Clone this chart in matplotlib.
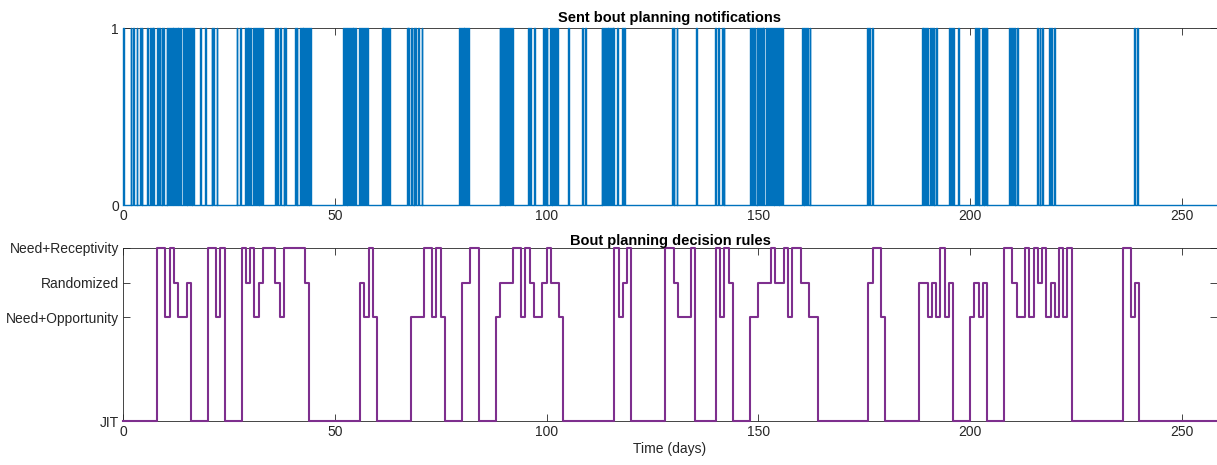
import numpy as np
import matplotlib.pyplot as plt

plt.rcParams['font.family'] = ['Liberation Sans', 'DejaVu Sans']

# --- data ---
# days on which a bout planning notification was sent
sent_days = [0.1, 1.8, 2.4, 3.2, 4.0, 4.4, 5.6, 6.4, 6.8, 7.2, 8.0, 8.6, 9.1, 9.5,
             10.3, 10.7, 11.1, 11.5, 11.9, 12.3, 12.7, 13.1, 13.5, 14.2, 14.6, 15.0,
             15.4, 15.8, 16.2, 16.6, 18.2, 19.4, 20.9, 21.3, 22.1, 26.8, 27.6, 28.8,
             29.2, 29.6, 30.0, 30.8, 31.2, 31.6, 32.0, 32.4, 32.8, 35.9, 36.3, 37.1,
             37.9, 38.3, 40.6, 41.0, 41.8, 42.2, 42.6, 43.0, 43.4, 43.8, 44.2,
             52.0, 52.4, 52.8, 53.2, 53.6, 54.0, 54.4, 54.8, 55.8, 56.2, 56.7, 57.1,
             57.7, 61.1, 61.5, 61.9, 62.3, 62.9, 67.0, 67.4, 68.0, 68.6, 69.0, 69.7,
             70.5, 79.4, 79.8, 80.2, 80.6, 81.0, 81.5, 88.9, 89.3, 89.7, 90.1, 90.5,
             91.0, 91.4, 91.8, 95.7, 96.1, 97.1, 99.1, 99.6, 100.0, 100.8, 101.2,
             101.6, 102.0, 102.4, 105.1, 108.3, 109.1, 113.0, 113.4, 113.8, 114.2,
             114.6, 115.0, 115.4, 115.8, 116.6, 117.8, 118.3, 129.6, 130.0, 130.7,
             135.3, 139.8, 140.6, 141.4, 141.8, 148.1, 148.6, 149.0, 149.6, 150.0,
             150.4, 150.8, 151.2, 151.8, 152.3, 152.8, 153.2, 153.6, 154.0, 154.4,
             154.8, 155.2, 155.6, 160.3, 160.7, 161.1, 161.6, 162.1, 175.6, 176.2,
             176.8, 188.6, 189.0, 189.4, 189.8, 190.6, 191.0, 191.4, 192.0, 195.1,
             195.5, 195.9, 197.2, 201.2, 201.6, 202.0, 202.8, 203.2, 203.6, 203.9,
             209.3, 209.7, 210.1, 210.5, 211.0, 215.9, 216.4, 216.9, 218.7, 219.2,
             219.8, 238.7, 239.5]
pulse_width = 0.2

# decision rule in force from each change day on
rule_names = ['JIT', 'Need+Opportunity', 'Randomized', 'Need+Receptivity']
rule_levels = [0, 3, 4, 5]
change_days = [0, 8, 10, 11, 12, 13, 15, 16, 20, 22, 23, 24, 28, 29, 30, 31, 32, 33,
               36, 37, 38, 43, 44,
               56, 57, 58, 59, 60, 68, 71, 73, 74, 75, 76, 80, 82, 84, 88, 89, 92,
               94, 95, 96, 97, 99, 100, 101, 103, 104,
               116, 117, 118, 119, 120, 128, 130, 131, 134, 135, 140, 141, 142, 143,
               144, 148, 150, 153, 154, 156, 157, 158, 160, 162, 164,
               176, 177, 179, 180, 188, 190, 191, 192, 193, 194, 195, 196,
               200, 201, 202, 203, 204,
               208, 210, 211, 213, 214, 215, 216, 217, 218, 219, 220, 221, 222, 223,
               224, 236, 238, 239, 240]
change_rule = [0, 3, 1, 3, 2, 1, 2, 0, 3, 1, 3, 0, 3, 2, 3, 1, 2, 3,
               2, 1, 3, 2, 0,
               2, 1, 3, 1, 0, 1, 3, 1, 3, 1, 0, 2, 3, 0, 1, 2, 3,
               1, 3, 2, 1, 2, 3, 2, 1, 0,
               3, 1, 2, 3, 0, 3, 2, 1, 3, 0, 3, 1, 3, 2,
               0, 1, 2, 3, 2, 3, 1, 3, 2, 1, 0,
               2, 3, 1, 0, 2, 1, 2, 1, 3, 1, 2, 0,
               1, 2, 1, 2, 0,
               3, 2, 1, 3, 1, 3, 2, 3, 1, 2, 1, 3, 1, 3,
               0, 3, 1, 2, 0]

x_end = 258.3
blue = '#0072BD'
purple = '#7E2F8E'
axis_col = '#262626'

# --- build the traces ---
t_sent = [0.0]
v_sent = [0]
for d in sent_days:
    t_sent += [d, d, d + pulse_width, d + pulse_width]
    v_sent += [0, 1, 1, 0]
t_sent.append(x_end)
v_sent.append(0)

rule_y = [rule_levels[r] for r in change_rule]
t_rule = change_days + [x_end]
y_rule = rule_y + [rule_y[-1]]

# --- figure ---
fig = plt.figure(figsize=(12.17, 4.65), dpi=100)
ax1 = fig.add_axes([123 / 1217, 1 - 205 / 465, 1 - 123 / 1217, 177 / 465])
ax2 = fig.add_axes([123 / 1217, 1 - 421 / 465, 1 - 123 / 1217, 173 / 465])

ax1.plot(t_sent, v_sent, color=blue, lw=1.0, clip_on=False, zorder=3)
ax1.set_ylim(0, 1)
ax1.set_yticks([0, 1])
ax1.set_title('Sent bout planning notifications', fontsize=10.5, fontweight='bold',
              color='black', pad=4)

ax2.step(t_rule, y_rule, where='post', color=purple, lw=1.5, clip_on=False, zorder=3)
ax2.set_ylim(0, 5)
ax2.set_yticks(rule_levels)
ax2.set_yticklabels(rule_names)
ax2.set_title('Bout planning decision rules', fontsize=10.5, fontweight='bold',
              color='black', pad=2)
ax2.set_xlabel('Time (days)', fontsize=10, color=axis_col, labelpad=2)

for ax in (ax1, ax2):
    ax.set_xlim(0, x_end)
    ax.set_xticks([0, 50, 100, 150, 200, 250])
    ax.tick_params(direction='in', top=True, right=True, length=5, width=0.6,
                   colors=axis_col, labelsize=10, pad=3)
    for s in ax.spines.values():
        s.set_color(axis_col)
        s.set_linewidth(0.6)

fig.savefig('out.png', dpi=100)
